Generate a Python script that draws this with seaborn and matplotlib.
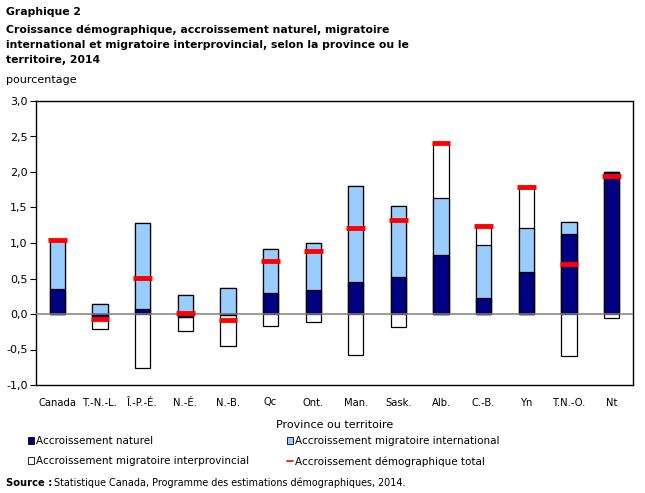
import numpy as np
import pandas as pd
import matplotlib
matplotlib.use("Agg")
import matplotlib.pyplot as plt
import seaborn as sns
from matplotlib.patches import Patch
from matplotlib.lines import Line2D

# données (pourcentage)
provinces = ['Canada', 'T.-N.-L.', 'Î.-P.-É.', 'N.-É.', 'N.-B.', 'Qc', 'Ont.',
             'Man.', 'Sask.', 'Alb.', 'C.-B.', 'Yn', 'T.N.-O.', 'Nt']
naturel = [0.35, -0.04, 0.07, -0.04, -0.01, 0.29, 0.34,
           0.45, 0.52, 0.83, 0.22, 0.59, 1.12, 2.00]
international = [0.69, 0.14, 1.21, 0.27, 0.37, 0.62, 0.66,
                 1.35, 1.00, 0.80, 0.75, 0.62, 0.17, 0.00]
interprovincial = [0.00, -0.17, -0.76, -0.20, -0.44, -0.17, -0.11,
                   -0.58, -0.18, 0.78, 0.27, 0.58, -0.59, -0.06]
total = [1.04, -0.07, 0.51, 0.02, -0.09, 0.74, 0.89,
         1.21, 1.33, 2.41, 1.24, 1.79, 0.70, 1.94]

c_nat = '#000080'
c_int = '#99CCFF'
c_ipr = '#FFFFFF'
c_tot = '#FF0000'

sns.set_theme(style='white')
plt.rcParams['font.family'] = ['DejaVu Sans']
plt.rcParams['text.color'] = 'black'
plt.rcParams['axes.labelcolor'] = 'black'
plt.rcParams['xtick.color'] = 'black'
plt.rcParams['ytick.color'] = 'black'

nat = np.array(naturel)
intl = np.array(international)
ipr = np.array(interprovincial)

# empilement : positifs vers le haut, négatifs vers le bas
p1 = np.clip(nat, 0, None)
p2 = p1 + np.clip(intl, 0, None)
p3 = p2 + np.clip(ipr, 0, None)
n1 = np.clip(nat, None, 0)
n2 = n1 + np.clip(intl, None, 0)
n3 = n2 + np.clip(ipr, None, 0)

fig = plt.figure(figsize=(6.45, 4.93), dpi=100)
ax = fig.add_axes([36 / 645, 108 / 493, 597 / 645, 284 / 493])

bw = 0.36
bar_kw = dict(width=bw, edgecolor='black', linewidth=0.9, order=provinces, ax=ax,
              errorbar=None, dodge=False)
for vals, col in [(p3, c_ipr), (p2, c_int), (p1, c_nat),
                  (n3, c_ipr), (n2, c_int), (n1, c_nat)]:
    v = np.where(np.abs(vals) < 1e-9, np.nan, vals)
    df = pd.DataFrame({'prov': provinces, 'val': v})
    sns.barplot(data=df, x='prov', y='val', color=col, saturation=1, **bar_kw)

ax.axhline(0, color='#808080', linewidth=1.1, zorder=3)

# accroissement total : traits rouges
xs = np.arange(len(provinces))
ax.hlines(total, xs - 0.22, xs + 0.22, color=c_tot, linewidth=3.5, zorder=5)

ax.set_xlim(-0.5, len(provinces) - 0.5)
ax.set_ylim(-1.0, 3.0)
yt = np.arange(-1.0, 3.01, 0.5)
ax.set_yticks(yt)
ax.set_yticklabels([f'{t:.1f}'.replace('.', ',') for t in yt], fontsize=8)
ax.set_xticks(xs)
ax.set_xticklabels(provinces, fontsize=7.2)
ax.tick_params(axis='y', left=True, length=4, width=0.8, color='black', pad=2)
ax.tick_params(axis='x', bottom=False, pad=3)
for s in ax.spines.values():
    s.set_color('black')
    s.set_linewidth(1.0)
ax.set_xlabel('Province ou territoire', fontsize=8, labelpad=9)
ax.set_ylabel('')

fig.text(6 / 645, 1 - 12 / 493, 'Graphique 2', fontsize=7.8, fontweight='bold', va='center')
fig.text(6 / 645, 1 - 45 / 493,
         'Croissance démographique, accroissement naturel, migratoire\n'
         'international et migratoire interprovincial, selon la province ou le\n'
         'territoire, 2014',
         fontsize=7.8, fontweight='bold', va='center', linespacing=1.6)
fig.text(6 / 645, 1 - 80 / 493, 'pourcentage', fontsize=8, va='center')

handles = [Patch(facecolor=c_nat, edgecolor='black', linewidth=0.6),
           Patch(facecolor=c_ipr, edgecolor='black', linewidth=0.6),
           Patch(facecolor=c_int, edgecolor='black', linewidth=0.6),
           Line2D([0], [0], color=c_tot, linewidth=1.2)]
labels = ['Accroissement naturel', 'Accroissement migratoire interprovincial',
          'Accroissement migratoire international', 'Accroissement démographique total']
fig.legend(handles, labels, ncol=2, loc='upper left',
           bbox_to_anchor=(28 / 645, 1 - 436 / 493), frameon=False, fontsize=7.5,
           handlelength=0.6, handleheight=0.6, handletextpad=0.2,
           columnspacing=3.6, labelspacing=1.0, borderaxespad=0, borderpad=0)

fig.text(6 / 645, 1 - 483 / 493, 'Source :', fontsize=7.2, fontweight='bold', va='center')
fig.text(54 / 645, 1 - 483 / 493,
         'Statistique Canada, Programme des estimations démographiques, 2014.',
         fontsize=6.9, va='center')

fig.savefig('out.png', dpi=100)
